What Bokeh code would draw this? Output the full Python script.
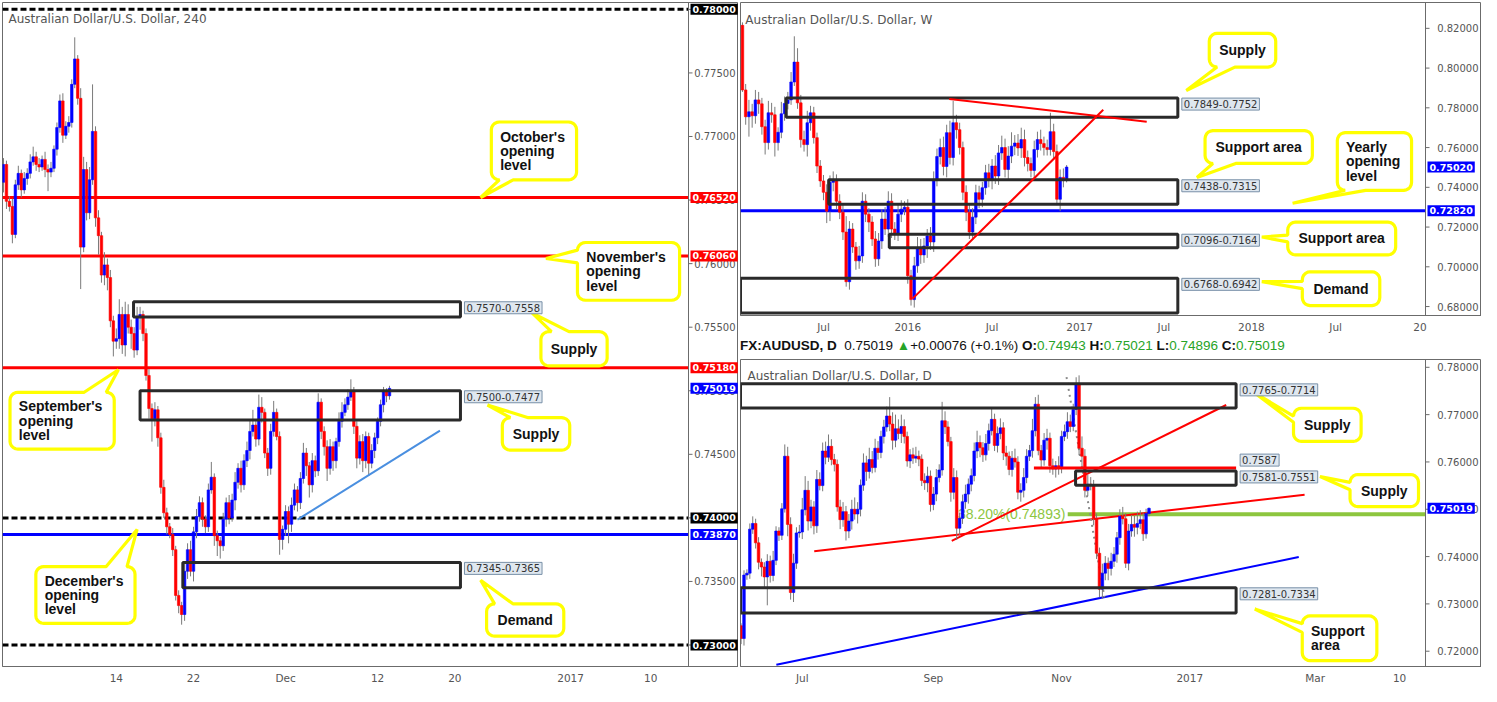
import json
import numpy as np
from bokeh.plotting import figure
from bokeh.models import (ColumnDataSource, Range1d, FixedTicker, Label, Span, Div,
                          CustomJSTickFormatter, PrintfTickFormatter)
from bokeh.layouts import row, column
from bokeh.embed import file_html
from bokeh.resources import INLINE
from bokeh.core.properties import value

# ======================= DATA =======================
# ---- 4h chart (left) ----
H4_FIRST_OPEN = 0.7664
H4_CLOSE = [0.7678, 0.7649, 0.7645, 0.7623, 0.7662, 0.7671, 0.7658, 0.7667, 0.7671, 0.7680,
            0.7684, 0.7678, 0.7676, 0.7682, 0.7674, 0.7672, 0.7675, 0.7690, 0.7707, 0.7728,
            0.7701, 0.7708, 0.7711, 0.7741, 0.7761, 0.7730, 0.7613, 0.7674, 0.7640, 0.7666,
            0.7704, 0.7636, 0.7622, 0.7591, 0.7599, 0.7589, 0.7555, 0.7539, 0.7541, 0.7560,
            0.7536, 0.7560, 0.7550, 0.7545, 0.7532, 0.7558, 0.7560, 0.7545, 0.7512, 0.7486,
            0.7478, 0.7485, 0.7463, 0.7424, 0.7404, 0.7393, 0.7387, 0.7375, 0.7339, 0.7331,
            0.7324, 0.7358, 0.7375, 0.7358, 0.7389, 0.7401, 0.7412, 0.7399, 0.7393, 0.7422,
            0.7432, 0.7386, 0.7382, 0.7378, 0.7399, 0.7412, 0.7400, 0.7414, 0.7428, 0.7439,
            0.7426, 0.7445, 0.7453, 0.7468, 0.7473, 0.7462, 0.7487, 0.7483, 0.7451, 0.7439,
            0.7468, 0.7483, 0.7464, 0.7383, 0.7391, 0.7405, 0.7395, 0.7410, 0.7422, 0.7412,
            0.7431, 0.7451, 0.7441, 0.7426, 0.7445, 0.7437, 0.7491, 0.7468, 0.7456, 0.7439,
            0.7456, 0.7445, 0.7460, 0.7476, 0.7483, 0.7489, 0.7495, 0.7500, 0.7472, 0.7447,
            0.7460, 0.7445, 0.7464, 0.7443, 0.7453, 0.7463, 0.7476, 0.7489, 0.7499, 0.7496,
            0.75019]
H4_UP_PIPS = [5, 3, 4, 6, 4, 6, 3, 5, 4, 6, 8, 4, 5, 3, 6, 4, 5, 3, 4, 5,
              6, 4, 5, 4, 17, 3, 8, 10, 6, 10, 37, 4, 6, 3, 10, 5, 6, 4, 8, 12,
              6, 10, 8, 6, 5, 8, 6, 3, 4, 5, 4, 6, 3, 4, 6, 4, 3, 5, 3, 4,
              3, 6, 5, 7, 4, 6, 5, 4, 3, 5, 12, 3, 4, 3, 5, 4, 6, 5, 8, 4,
              6, 5, 7, 9, 12, 4, 10, 8, 3, 4, 6, 9, 3, 4, 3, 5, 4, 6, 5, 3,
              5, 8, 4, 3, 6, 4, 7, 3, 4, 5, 6, 4, 3, 7, 8, 5, 6, 9, 3, 4,
              5, 6, 4, 3, 5, 4, 3, 4, 4, 3, 2]
H4_DN_PIPS = [8, 6, 4, 7, 3, 4, 6, 3, 5, 4, 3, 5, 4, 3, 6, 15, 4, 3, 5, 4,
              6, 3, 5, 4, 3, 5, 33, 4, 6, 5, 4, 7, 15, 6, 8, 10, 5, 12, 6, 8,
              7, 9, 5, 12, 6, 4, 10, 6, 4, 8, 18, 6, 7, 5, 4, 6, 3, 5, 4, 6,
              8, 5, 6, 4, 8, 5, 4, 6, 5, 4, 3, 8, 12, 10, 4, 6, 5, 3, 8, 5,
              6, 4, 5, 7, 4, 6, 5, 8, 4, 6, 5, 4, 3, 12, 8, 5, 15, 6, 4, 7,
              5, 4, 8, 10, 6, 5, 4, 6, 7, 10, 5, 8, 6, 4, 5, 3, 4, 3, 6, 8,
              5, 9, 6, 10, 4, 6, 5, 4, 6, 5, 3]
H4_TICK_POS = [38, 64, 95, 126, 152, 191, 218]
H4_TICK_LABELS = ["14", "22", "Dec", "12", "20", "2017", "10"]
H4_Y_TICKS = [0.730, 0.735, 0.740, 0.745, 0.750, 0.755, 0.760, 0.765, 0.770, 0.775, 0.780]
H4_RED_LEVELS = [0.7652, 0.7606, 0.7518]
H4_DASH_LEVELS = [0.7800, 0.7400, 0.7300]
H4_BLUE_LEVEL = 0.7387
H4_ZONES = [(0.7570, 0.7558), (0.7500, 0.7477), (0.7365, 0.7345)]
H4_ZONE_LABELS = ["0.7570-0.7558", "0.7500-0.7477", "0.7345-0.7365"]

# ---- weekly chart (top right) ----
W_FIRST_OPEN = 0.8215
W_CLOSE = [0.7890, 0.7755, 0.7780, 0.7760, 0.7840, 0.7820, 0.7705, 0.7625, 0.7775, 0.7765,
           0.7625, 0.7677, 0.7770, 0.7822, 0.7840, 0.7930, 0.8030, 0.7825, 0.7640, 0.7615,
           0.7725, 0.7775, 0.7650, 0.7507, 0.7432, 0.7375, 0.7280, 0.7425, 0.7435, 0.7330,
           0.7275, 0.7175, 0.6925, 0.7190, 0.7100, 0.7030, 0.7055, 0.7330, 0.7265, 0.7225,
           0.7140, 0.7040, 0.7130, 0.7240, 0.7190, 0.7330, 0.7190, 0.7165, 0.7265, 0.7290,
           0.7300, 0.6955, 0.6835, 0.7005, 0.7090, 0.7060, 0.7105, 0.7155, 0.7125, 0.7440,
           0.7555, 0.7600, 0.7505, 0.7675, 0.7550, 0.7725, 0.7690, 0.7600, 0.7375, 0.7275,
           0.7175, 0.7250, 0.7373, 0.7340, 0.7398, 0.7473, 0.7440, 0.7507, 0.7457, 0.7573,
           0.7600, 0.7490, 0.7557, 0.7607, 0.7623, 0.7598, 0.7640, 0.7550, 0.7520, 0.7485,
           0.7590, 0.7640, 0.7620, 0.7600, 0.7590, 0.7680, 0.7580, 0.7340, 0.7450, 0.7440,
           0.7502]
W_UP_PIPS = [15, 30, 60, 40, 50, 40, 30, 35, 60, 50, 40, 25, 60, 35, 40, 50, 130, 70, 40, 45,
             60, 35, 30, 25, 30, 30, 40, 35, 45, 30, 35, 40, 80, 40, 30, 25, 50, 45, 35, 30,
             30, 40, 40, 50, 60, 50, 40, 35, 50, 45, 30, 40, 30, 45, 60, 50, 40, 35, 45, 40,
             40, 45, 55, 40, 60, 110, 40, 35, 30, 35, 40, 45, 40, 35, 30, 40, 45, 35, 55, 40,
             60, 45, 50, 70, 40, 45, 60, 50, 35, 30, 45, 40, 50, 35, 40, 95, 40, 35, 40, 45,
             10]
W_DN_PIPS = [10, 40, 100, 60, 40, 50, 40, 60, 35, 40, 70, 40, 30, 35, 30, 25, 20, 30, 40, 35,
             60, 40, 30, 35, 30, 40, 60, 50, 45, 40, 35, 40, 25, 40, 30, 45, 40, 35, 40, 50,
             35, 40, 35, 40, 30, 40, 45, 30, 35, 40, 30, 40, 30, 40, 35, 45, 40, 60, 40, 50,
             35, 40, 45, 55, 35, 40, 45, 35, 40, 45, 35, 40, 35, 45, 40, 35, 40, 50, 40, 45,
             35, 40, 50, 35, 45, 40, 50, 45, 40, 35, 45, 40, 35, 40, 30, 30, 40, 30, 60, 40,
             15]
W_TICK_POS = [25, 51, 77, 104, 130, 157, 183, 209]
W_TICK_LABELS = ["Jul", "2016", "Jul", "2017", "Jul", "2018", "Jul", "20"]
W_Y_TICKS = [0.68, 0.70, 0.72, 0.74, 0.76, 0.78, 0.80, 0.82]
W_YEARLY_OPEN = 0.7282
W_ZONES = [(0.7849, 0.7752), (0.7438, 0.7315), (0.7164, 0.7096), (0.6942, 0.6768)]
W_ZONE_LABELS = ["0.7849-0.7752", "0.7438-0.7315", "0.7096-0.7164", "0.6768-0.6942"]

# ---- daily chart (bottom right) ----
D_FIRST_OPEN = 0.7254
D_CLOSE = [0.7227, 0.7361, 0.7365, 0.7458, 0.7470, 0.7429, 0.7388, 0.7378, 0.7357, 0.7390,
           0.7360, 0.7392, 0.7454, 0.7445, 0.7501, 0.7612, 0.7468, 0.7324, 0.7386, 0.7450,
           0.7452, 0.7499, 0.7540, 0.7475, 0.7505, 0.7465, 0.7563, 0.7550, 0.7623, 0.7610,
           0.7633, 0.7605, 0.7595, 0.7505, 0.7478, 0.7495, 0.7454, 0.7475, 0.7500, 0.7490,
           0.7500, 0.7551, 0.7598, 0.7580, 0.7605, 0.7588, 0.7629, 0.7620, 0.7654, 0.7674,
           0.7697, 0.7680, 0.7646, 0.7670, 0.7660, 0.7675, 0.7654, 0.7602, 0.7615, 0.7608,
           0.7612, 0.7606, 0.7561, 0.7556, 0.7570, 0.7510, 0.7532, 0.7567, 0.7583, 0.7687,
           0.7674, 0.7643, 0.7536, 0.7567, 0.7460, 0.7481, 0.7516, 0.7532, 0.7553, 0.7571,
           0.7623, 0.7641, 0.7630, 0.7615, 0.7639, 0.7666, 0.7690, 0.7635, 0.7660, 0.7672,
           0.7619, 0.7612, 0.7584, 0.7608, 0.7600, 0.7536, 0.7540, 0.7567, 0.7612, 0.7624,
           0.7666, 0.7722, 0.7624, 0.7604, 0.7646, 0.7650, 0.7592, 0.7585, 0.7592, 0.7588,
           0.7654, 0.7664, 0.7685, 0.7675, 0.7711, 0.7763, 0.7629, 0.7612, 0.7540, 0.7553,
           0.7550, 0.7481, 0.7407, 0.7331, 0.7365, 0.7386, 0.7375, 0.7390, 0.7405, 0.7440,
           0.7485, 0.7480, 0.7386, 0.7454, 0.7468, 0.7462, 0.7470, 0.7478, 0.7448, 0.7491,
           0.75019]
D_UP_PIPS = [5, 10, 8, 12, 15, 10, 12, 8, 10, 15, 12, 20, 10, 8, 12, 25, 20, 15, 20, 12,
             15, 25, 30, 20, 15, 12, 20, 15, 18, 20, 25, 15, 12, 10, 15, 20, 12, 15, 20, 25,
             15, 12, 20, 15, 25, 18, 20, 15, 12, 15, 20, 40, 25, 30, 20, 25, 15, 10, 12, 15,
             20, 12, 10, 15, 20, 12, 15, 18, 12, 40, 20, 12, 10, 20, 15, 12, 15, 20, 12, 15,
             18, 25, 15, 12, 20, 15, 25, 12, 15, 20, 12, 15, 10, 15, 20, 12, 15, 20, 15, 12,
             25, 15, 20, 12, 15, 20, 12, 15, 10, 20, 12, 15, 20, 15, 12, 16, 20, 25, 15, 20,
             15, 12, 10, 12, 20, 15, 12, 18, 15, 12, 15, 20, 12, 15, 20, 18, 25, 20, 15, 10,
             2]
D_DN_PIPS = [12, 15, 10, 12, 10, 12, 15, 20, 25, 60, 15, 12, 10, 12, 10, 8, 25, 15, 20, 12,
             10, 15, 12, 20, 15, 18, 15, 10, 12, 15, 10, 12, 15, 10, 20, 15, 20, 15, 18, 12,
             20, 15, 12, 20, 15, 12, 10, 15, 12, 15, 10, 15, 20, 15, 12, 20, 15, 12, 15, 12,
             10, 15, 12, 15, 20, 15, 12, 15, 10, 12, 15, 10, 20, 15, 25, 15, 12, 15, 20, 15,
             12, 15, 20, 15, 12, 15, 10, 12, 15, 12, 15, 20, 12, 15, 12, 15, 20, 15, 12, 10,
             15, 12, 10, 15, 12, 20, 15, 12, 18, 15, 12, 10, 15, 12, 10, 12, 15, 20, 15, 12,
             10, 15, 12, 17, 20, 15, 25, 15, 12, 18, 15, 12, 10, 15, 12, 20, 15, 12, 15, 10,
             6]
D_TICK_POS = [21, 66, 110, 154, 197, 226]
D_TICK_LABELS = ["Jul", "Sep", "Nov", "2017", "Mar", "10"]
D_Y_TICKS = [0.72, 0.73, 0.74, 0.75, 0.76, 0.77, 0.78]
D_ZONES = [(0.7765, 0.7714), (0.7581, 0.7551), (0.7334, 0.7281)]
D_ZONE_LABELS = ["0.7765-0.7714", "0.7581-0.7551", "0.7281-0.7334"]
D_LEVEL = 0.7587
D_FIB = 0.74893
D_FIB_PCT = "38.20%"
D_LAST_O, D_LAST_H, D_LAST_L, D_LAST_C = 0.74943, 0.75021, 0.74896, 0.75019
D_CHG, D_CHG_PCT = 0.00076, 0.1

# ======================= STYLE / HELPERS =======================
UP_COL, DN_COL, WICK_COL = "#0000ff", "#ff0000", "#7a7a7a"
AX_COL = "#6b6b6b"
YELLOW = "#ffff00"


def ohlc(first_open, closes, up, dn):
    c = np.array(closes, float)
    o = np.concatenate([[first_open], c[:-1]])
    hi = np.maximum(o, c) + np.array(up, float) * 1e-4
    lo = np.minimum(o, c) - np.array(dn, float) * 1e-4
    return o, hi, lo, c


def base_fig(width, height, x_start, x_bound, axis_w, yr, yticks, xticks, xlabels):
    """The figure's own price axis is used; its labels are pulled into a strip of axis_w
    pixels at the right of the frame so that coloured price badges can sit on top."""
    frame_w = width - 2
    x_end = x_start + (x_bound - x_start) * frame_w / (frame_w - axis_w)
    p = figure(width=width, height=height, x_range=Range1d(x_start, x_end),
               y_range=Range1d(*yr), y_axis_location="left", toolbar_location=None,
               output_backend="svg", min_border_left=2, min_border_top=2,
               min_border_right=0, min_border_bottom=14)
    p.xgrid.visible = False
    p.ygrid.visible = False
    p.background_fill_color = "white"
    p.border_fill_color = "white"
    p.outline_line_color = AX_COL
    p.outline_line_width = 1
    yax = p.yaxis[0]
    yax.ticker = FixedTicker(ticks=yticks)
    yax.formatter = PrintfTickFormatter(format="%.5f")
    yax.axis_line_color = None
    yax.major_tick_line_color = None
    yax.minor_tick_line_color = None
    yax.major_tick_out = 0
    yax.minor_tick_out = 0
    yax.major_tick_in = 0
    yax.axis_label_standoff = 0
    yax.major_label_standoff = -(frame_w - 3)
    yax.major_label_text_color = "#555555"
    yax.major_label_text_font = "DejaVu Sans"
    yax.major_label_text_font_size = "10px"
    xax = p.xaxis[0]
    xax.ticker = FixedTicker(ticks=xticks)
    mapping = {str(int(t)): l for t, l in zip(xticks, xlabels)}
    xax.formatter = CustomJSTickFormatter(
        code="const m = " + json.dumps(mapping) +
             "; const k = String(Math.round(tick)); return (k in m) ? m[k] : '';")
    xax.axis_line_color = AX_COL
    xax.major_tick_line_color = None
    xax.minor_tick_line_color = None
    xax.major_tick_out = 0
    xax.minor_tick_out = 0
    xax.major_tick_in = 0
    xax.axis_label_standoff = 0
    xax.major_label_standoff = 5
    xax.major_label_text_color = "#555555"
    xax.major_label_text_font = "DejaVu Sans"
    xax.major_label_text_font_size = "10.5px"
    # border between the plotting area and the price strip, with small price ticks
    p.add_layout(Span(location=x_bound, dimension="height", line_color=AX_COL, line_width=1))
    dx = 4.0 * (x_end - x_start) / frame_w
    p.segment(x0=[x_bound] * len(yticks), y0=yticks, x1=[x_bound + dx] * len(yticks), y1=yticks,
              line_color=AX_COL, line_width=1)
    return p


def hline(p, x0, x1, level, color, width=3, dash="solid"):
    p.segment(x0=[x0], y0=[level], x1=[x1], y1=[level], line_color=color,
              line_width=width, line_dash=dash)


def draw_candles(p, x, o, h, l, c, w):
    col = [UP_COL if cc >= oo else DN_COL for oo, cc in zip(o, c)]
    src = ColumnDataSource(dict(x=list(x), hi=list(h), lo=list(l),
                                top=list(np.maximum(o, c)), bot=list(np.minimum(o, c)), col=col))
    p.segment(x0="x", y0="hi", x1="x", y1="lo", source=src, line_color=WICK_COL, line_width=1)
    p.vbar(x="x", width=w, top="top", bottom="bot", source=src,
           fill_color="col", line_color="col", line_width=0.6)


def zones(p, zlist, labels, x0s, x1, fs="10px"):
    for (a, b), lab, x0 in zip(zlist, labels, x0s):
        top, bot = max(a, b), min(a, b)
        p.quad(left=x0, right=x1, top=top, bottom=bot, fill_alpha=0,
               line_color="#2a2a2a", line_width=3)
        p.add_layout(Label(x=x1, y=top, x_offset=4, text=lab, text_align="left",
                           text_baseline="top", text_font="DejaVu Sans", text_font_size=fs,
                           text_color="#333333", background_fill_color="#dfe7ef",
                           border_line_color="#7890a8", border_line_width=1, padding=2))


def badge(p, x_bound, level, color):
    p.add_layout(Label(x=x_bound, y=level, x_offset=2, text="%.5f" % level, text_align="left",
                       text_baseline="middle", text_font="DejaVu Sans", text_font_size="9.5px",
                       text_font_style="bold", text_color="white",
                       background_fill_color=color, padding=2))


def bubble(x0, x1, y0, y1, rx, ry, side, f1, f2, tip, n=6):
    xs, ys = [], []

    def arc(cx, cy, a0, a1):
        for t in np.linspace(a0, a1, n):
            xs.append(cx + rx * np.cos(t))
            ys.append(cy + ry * np.sin(t))

    def ptr(ax, ay, bx, by):
        xs.extend([ax + (bx - ax) * f1, tip[0], ax + (bx - ax) * f2])
        ys.extend([ay + (by - ay) * f1, tip[1], ay + (by - ay) * f2])

    if side == "bottom":
        ptr(x0 + rx, y0, x1 - rx, y0)
    arc(x1 - rx, y0 + ry, -np.pi / 2, 0)
    if side == "right":
        ptr(x1, y0 + ry, x1, y1 - ry)
    arc(x1 - rx, y1 - ry, 0, np.pi / 2)
    if side == "top":
        ptr(x1 - rx, y1, x0 + rx, y1)
    arc(x0 + rx, y1 - ry, np.pi / 2, np.pi)
    if side == "left":
        ptr(x0, y1 - ry, x0, y0 + ry)
    arc(x0 + rx, y0 + ry, np.pi, 1.5 * np.pi)
    return xs, ys


def callout(p, box, tip, side, f1, f2, lines, rx, ry, align="center", fs="14px"):
    x0, x1, y0, y1 = box
    xs, ys = bubble(x0, x1, y0, y1, rx, ry, side, f1, f2, tip)
    p.patch(xs, ys, fill_color="white", line_color=YELLOW, line_width=3.2)
    tx = (x0 + x1) / 2 if align == "center" else x0 + rx * 1.1
    p.text(x=[tx], y=[(y0 + y1) / 2], text=["\n".join(lines)],
           text_font=value("Liberation Sans"), text_font_style="bold", text_font_size=fs,
           text_align=align, text_baseline="middle", text_line_height=0.9,
           text_color="#111111")


def panel_title(p, x, y, txt):
    p.text(x=[x], y=[y], text=[txt], text_font=value("DejaVu Sans"), text_font_size="12px",
           text_color="#555555", text_align="left", text_baseline="middle")


# ======================= LEFT: 4H =======================
H4_X0, H4_XB = -0.33, 230.7
pL = base_fig(738, 686, H4_X0, H4_XB, 50, (0.72831, 0.78054), H4_Y_TICKS,
              H4_TICK_POS, H4_TICK_LABELS)
for lv in H4_RED_LEVELS:
    hline(pL, H4_X0, H4_XB, lv, "#ff0000")
for lv in H4_DASH_LEVELS:
    hline(pL, H4_X0, H4_XB, lv, "#000000", 3, "6 3")
hline(pL, H4_X0, H4_XB, H4_BLUE_LEVEL, "#0000ff")
o, h, l, c = ohlc(H4_FIRST_OPEN, H4_CLOSE, H4_UP_PIPS, H4_DN_PIPS)
draw_candles(pL, np.arange(len(c)), o, h, l, c, 0.85)
pL.line([99, 147], [0.73986, 0.74687], line_color="#4a8fe0", line_width=2)
zones(pL, H4_ZONES, H4_ZONE_LABELS, [43.8, 46.0, 60.4], 153.9)
panel_title(pL, 1.7, 0.77923, "Australian Dollar/U.S. Dollar, 240")
rxL, ryL = 2.7, 0.0006
callout(pL, (164.3, 193.0, 0.76659, 0.77114), (160.7, 0.7652), "bottom", 0.0, 0.2,
        ["October's", "opening", "level"], rxL, ryL, "left")
callout(pL, (193.3, 227.7, 0.75712, 0.76166), (182.7, 0.7604), "left", 0.0, 0.3,
        ["November's", "opening", "level"], rxL, ryL, "left")
callout(pL, (181.0, 203.3, 0.75196, 0.75465), (178.0, 0.75612), "top", 0.6, 0.95,
        ["Supply"], rxL, ryL)
callout(pL, (2.2, 37.3, 0.74541, 0.74988), (38.7, 0.75165), "top", 0.0, 0.25,
        ["September's", "opening", "level"], rxL, ryL, "left")
callout(pL, (168.0, 190.7, 0.74533, 0.74788), (163.0, 0.74888), "top", 0.65, 1.0,
        ["Supply"], rxL, ryL)
callout(pL, (10.9, 44.3, 0.73170, 0.73617), (45.0, 0.73909), "top", 0.0, 0.25,
        ["December's", "opening", "level"], rxL, ryL, "left")
callout(pL, (162.7, 188.7, 0.73070, 0.73324), (160.7, 0.73509), "top", 0.7, 1.0,
        ["Demand"], rxL, ryL)
for lv, col in [(0.7800, "#000000"), (0.7652, "#ff0000"), (0.7606, "#ff0000"),
                (0.7518, "#ff0000"), (H4_CLOSE[-1], "#0000ff"), (0.7400, "#000000"),
                (H4_BLUE_LEVEL, "#0000ff"), (0.7300, "#000000")]:
    badge(pL, H4_XB, lv, col)

# ======================= TOP RIGHT: WEEKLY =======================
W_X0, W_XB = -0.6, 210.7
pW = base_fig(743, 335, W_X0, W_XB, 56, (0.6755, 0.833), W_Y_TICKS, W_TICK_POS, W_TICK_LABELS)
hline(pW, W_X0, W_XB, W_YEARLY_OPEN, "#0000ff")
o, h, l, c = ohlc(W_FIRST_OPEN, W_CLOSE, W_UP_PIPS, W_DN_PIPS)
draw_candles(pW, np.arange(len(c)), o, h, l, c, 0.8)
zones(pW, W_ZONES, W_ZONE_LABELS, [13.5, 26.6, 45.3, -0.6], 134.3)
pW.line([63.8, 124.7], [0.7845, 0.7730], line_color="#ff0000", line_width=2)
pW.line([52.5, 111.3], [0.6840, 0.7790], line_color="#ff0000", line_width=2)
panel_title(pW, 0.9, 0.8240, "Australian Dollar/U.S. Dollar, W")
rxW, ryW = 2.4, 0.0040
callout(pW, (144.0, 164.5, 0.8005, 0.8175), (136.9, 0.7887), "bottom", 0.0, 0.35,
        ["Supply"], rxW, ryW)
callout(pW, (142.7, 175.8, 0.7520, 0.7685), (140.2, 0.7450), "bottom", 0.0, 0.25,
        ["Support area"], rxW, ryW)
callout(pW, (183.5, 206.4, 0.7385, 0.7675), (169.7, 0.7320), "bottom", 0.0, 0.35,
        ["Yearly", "opening", "level"], rxW, ryW, "left")
callout(pW, (168.2, 201.5, 0.7060, 0.7225), (160.2, 0.7150), "left", 0.3, 0.7,
        ["Support area"], rxW, ryW)
callout(pW, (172.7, 196.6, 0.6805, 0.6975), (160.2, 0.6925), "left", 0.1, 0.5,
        ["Demand"], rxW, ryW)
badge(pW, W_XB, W_CLOSE[-1], "#0000ff")
badge(pW, W_XB, W_YEARLY_OPEN, "#0000ff")

# ======================= BOTTOM RIGHT: DAILY =======================
D_X0, D_XB = -0.2, 234.9
pD = base_fig(743, 329, D_X0, D_XB, 56, (0.71677, 0.78165), D_Y_TICKS, D_TICK_POS, D_TICK_LABELS)
pD.text(x=[111.3], y=[D_FIB], text=["%s(%.5f)" % (D_FIB_PCT, D_FIB)],
        text_font=value("Liberation Sans"), text_font_size="14px", text_color="#8dc63f",
        text_align="right", text_baseline="middle")
hline(pD, 112.1, D_XB, D_FIB, "#8dc63f", 4)
pD.line([12.1, 191.4], [0.71712, 0.73990], line_color="#0000ff", line_width=2)
pD.line([25.1, 193.4], [0.74113, 0.75308], line_color="#ff0000", line_width=2)
pD.line([72.3, 166.5], [0.74334, 0.77203], line_color="#ff0000", line_width=2)
pD.line([111.7, 124.7], [0.77794, 0.73139], line_color="#8a8a8a", line_width=2,
        line_dash="2 4")
o, h, l, c = ohlc(D_FIRST_OPEN, D_CLOSE, D_UP_PIPS, D_DN_PIPS)
draw_candles(pD, np.arange(len(c)), o, h, l, c, 0.9)
hline(pD, 100.5, 169.9, D_LEVEL, "#ff0000")
zones(pD, D_ZONES, D_ZONE_LABELS, [-0.2, 114.8, -0.2], 169.9)
pD.add_layout(Label(x=169.9, y=D_LEVEL, x_offset=4, y_offset=2, text="%.4f" % D_LEVEL,
                    text_align="left", text_baseline="bottom", text_font="DejaVu Sans",
                    text_font_size="10px", text_color="#333333", background_fill_color="#dfe7ef",
                    border_line_color="#7890a8", border_line_width=1, padding=2))
panel_title(pD, 2.2, 0.77815, "Australian Dollar/U.S. Dollar, D")
rxD, ryD = 2.7, 0.00165
callout(pD, (189.6, 212.8, 0.76435, 0.77135), (176.3, 0.77458), "left", 0.0, 0.35,
        ["Supply"], rxD, ryD)
callout(pD, (209.0, 232.5, 0.75055, 0.75734), (198.7, 0.75693), "left", 0.0, 0.45,
        ["Supply"], rxD, ryD)
callout(pD, (192.6, 218.2, 0.71800, 0.72748), (176.3, 0.72892), "left", 0.0, 0.3,
        ["Support", "area"], rxD, ryD, "left")
badge(pD, D_XB, D_CLOSE[-1], "#0000ff")

GREEN = "#27a327"
hdr_html = (
    '<span style="font-weight:bold">FX:AUDUSD, D</span>&nbsp; %.5f '
    '<span style="color:%s">&#9650;</span>+%.5f (+%.1f%%) '
    '<b>O:</b><span style="color:%s">%.5f</span> '
    '<b>H:</b><span style="color:%s">%.5f</span> '
    '<b>L:</b><span style="color:%s">%.5f</span> '
    '<b>C:</b><span style="color:%s">%.5f</span>'
) % (D_LAST_C, GREEN, D_CHG, D_CHG_PCT, GREEN, D_LAST_O, GREEN, D_LAST_H,
     GREEN, D_LAST_L, GREEN, D_LAST_C)
hdr = Div(text=hdr_html, width=743, height=22, margin=(0, 0, 0, 0),
          styles={"font-family": "'Liberation Sans', Arial, sans-serif", "font-size": "13.5px",
                  "color": "#111111", "white-space": "nowrap", "padding-left": "2px",
                  "line-height": "22px", "background": "white"})

layout = row(pL, column(pW, hdr, pD, spacing=0), spacing=0)
open("out.html", "w").write(file_html(layout, INLINE))
